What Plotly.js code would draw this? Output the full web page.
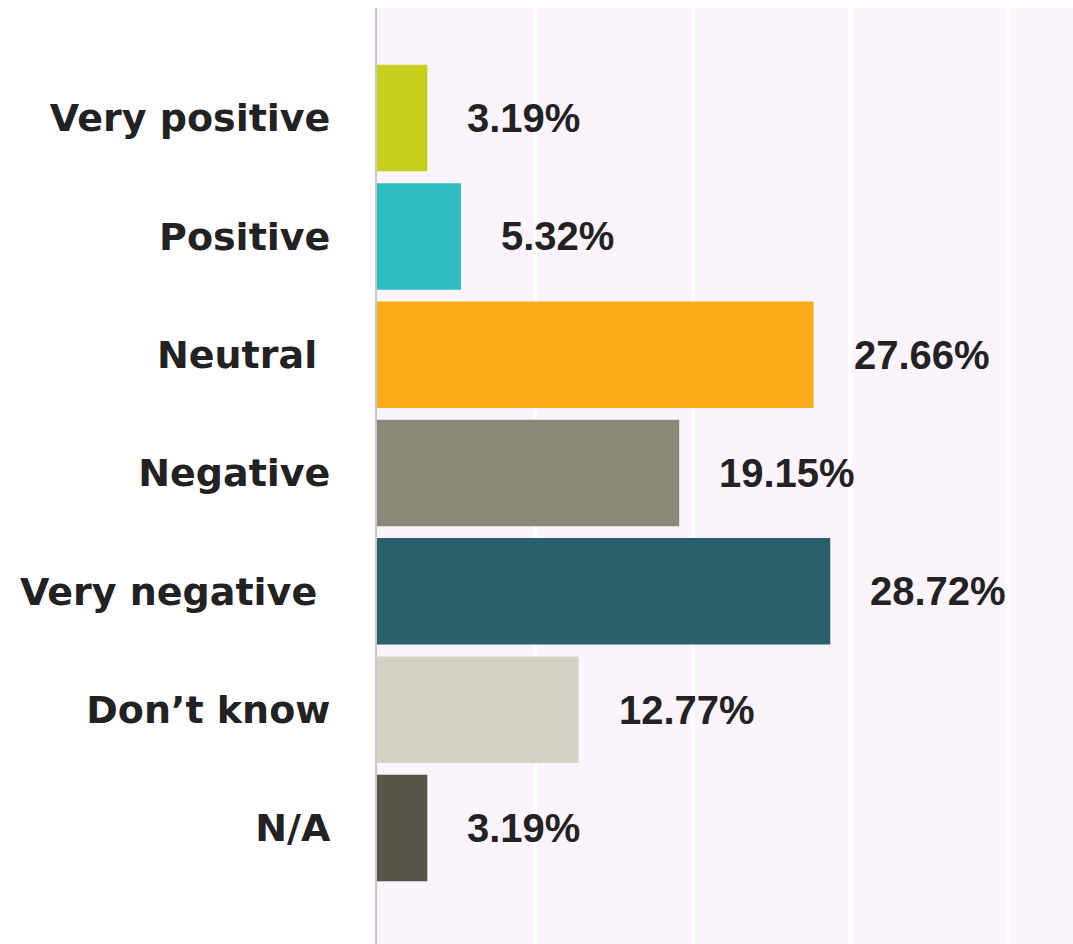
<!DOCTYPE html>
<html>
<head>
<meta charset="utf-8">
<script src="https://cdn.plot.ly/plotly-3.0.1.min.js"></script>
<style>html,body{margin:0;padding:0;background:#fff;}#chart{width:1073px;height:944px;}</style>
</head>
<body>
<div id="chart"></div>
<script>
const categories = ["Very positive", "Positive", "Neutral ", "Negative", "Very negative ", "Don\u2019t know", "N/A"];
const values = [3.19, 5.32, 27.66, 19.15, 28.72, 12.77, 3.19];
const valueLabels = ["3.19%", "5.32%", "27.66%", "19.15%", "28.72%", "12.77%", "3.19%"];
const barColors = ["#c6d01c", "#2ebec0", "#fcab18", "#8b8878", "#2a606a", "#d3d2c3", "#575548"];

const tickText = categories.map(c => c.replace(/ /g, "\u00a0"));

const trace = {
  type: "bar",
  orientation: "h",
  y: categories,
  x: values,
  width: 0.9,
  marker: {color: barColors, line: {width: 0}},
  hoverinfo: "none"
};

const annotations = categories.map((c, i) => ({
  x: values[i], y: c, xref: "x", yref: "y",
  text: valueLabels[i], showarrow: false,
  xanchor: "left", yanchor: "middle", xshift: 38,
  font: {family: "Liberation Sans, Arial, sans-serif", size: 40, color: "#222222", weight: "bold"}
}));

const layout = {
  width: 1073, height: 944,
  margin: {l: 377, r: 0, t: 8, b: 0},
  paper_bgcolor: "#ffffff",
  plot_bgcolor: "#fcf4fc",
  showlegend: false,
  bargap: 0.1,
  xaxis: {
    range: [0, 44.1],
    dtick: 10, tick0: 0,
    showgrid: true, gridcolor: "#ffffff", gridwidth: 4,
    zeroline: false, showticklabels: false, ticks: "",
    showline: false, fixedrange: true
  },
  yaxis: {
    type: "category",
    range: [6.98, -0.93],
    tickmode: "array", tickvals: categories, ticktext: tickText,
    showgrid: false, zeroline: false,
    showline: true, linecolor: "#c8c8c8", linewidth: 2,
    ticks: "", ticklabelstandoff: 37,
    tickfont: {family: "DejaVu Sans, sans-serif", size: 38, color: "#222222", weight: "bold"},
    fixedrange: true
  },
  annotations: annotations
};

Plotly.newPlot("chart", [trace], layout, {displayModeBar: false, staticPlot: true});
</script>
</body>
</html>
